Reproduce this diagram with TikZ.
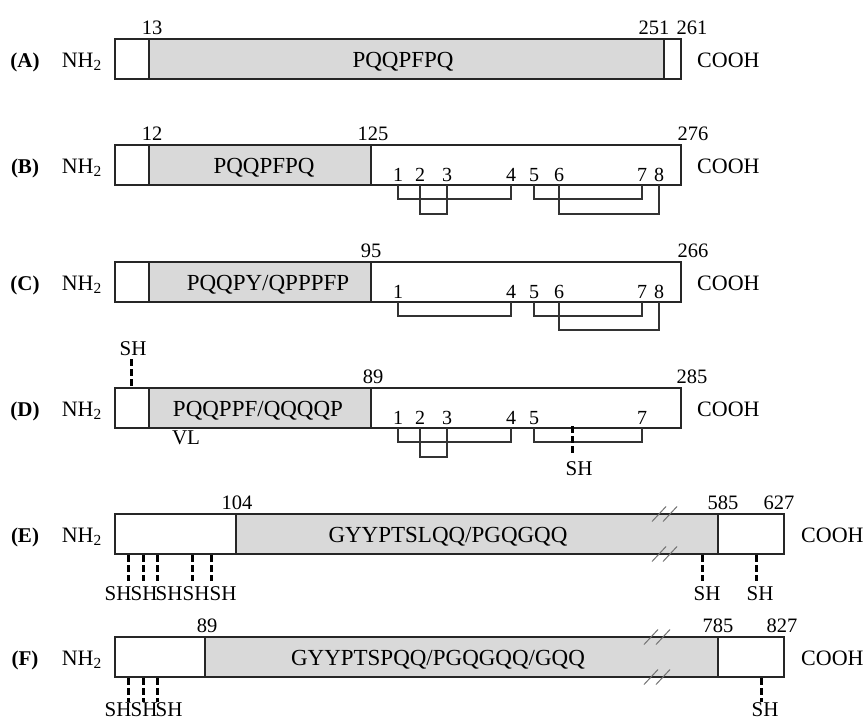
\documentclass[tikz,border=0pt]{standalone}
\usepackage{fontspec}
\setmainfont{Liberation Serif}
\begin{document}
\begin{tikzpicture}[x=1pt,y=-1pt,
  boxline/.style={draw=black!85, line width=1.6pt},
  segfill/.style={fill=black!15},
  rowlbl/.style={font=\fontsize{21}{23}\selectfont\bfseries, anchor=base, inner sep=0pt},
  endlbl/.style={font=\fontsize{22}{24}\selectfont, anchor=base, inner sep=0pt},
  seqlbl/.style={font=\fontsize{23}{25}\selectfont, anchor=base, inner sep=0pt},
  numlbl/.style={font=\fontsize{20.5}{22}\selectfont, anchor=base, inner sep=0pt},
  diglbl/.style={font=\fontsize{20}{22}\selectfont, anchor=base, inner sep=0pt},
  shlbl/.style={font=\fontsize{21}{23}\selectfont, anchor=base, inner sep=0pt},
  bracket/.style={draw=black!80, line width=1.1pt},
  shline/.style={draw=black, line width=3pt, dash pattern=on 7pt off 3pt},
  breakmark/.style={draw=black!55, line width=1pt}
]
\useasboundingbox (0,0) rectangle (866,720);

% ---------------- Row A ----------------
\fill[segfill] (149,39) rectangle (664,79);
\draw[boxline] (115,39) rectangle (681,79);
\draw[boxline] (149,39) -- (149,79);
\draw[boxline] (664,39) -- (664,79);
\node[rowlbl] (lA) at (25,67) {(A)};
\node[endlbl, anchor=base east] (nA) at (102,67) {NH\textsubscript{2}};
\node[endlbl, anchor=base west] (cA) at (697,67) {COOH};
\node[seqlbl] (sA) at (403,67) {PQQPFPQ};
\node[numlbl] (a13) at (152,34) {13};
\node[numlbl] (a251) at (654,34) {251};
\node[numlbl] (a261) at (692,34) {261};

% ---------------- Row B ----------------
\fill[segfill] (149,145) rectangle (371,185);
\draw[boxline] (115,145) rectangle (681,185);
\draw[boxline] (149,145) -- (149,185);
\draw[boxline] (371,145) -- (371,185);
\node[rowlbl] (lB) at (25,173) {(B)};
\node[endlbl, anchor=base east] (nB) at (102,173) {NH\textsubscript{2}};
\node[endlbl, anchor=base west] (cB) at (697,173) {COOH};
\node[seqlbl] (sB) at (264,173) {PQQPFPQ};
\node[numlbl] (b12) at (152,140) {12};
\node[numlbl] (b125) at (373,140) {125};
\node[numlbl] (b276) at (693,140) {276};
\foreach \d/\x in {1/398,2/420,3/447,4/511,5/534,6/559,7/642,8/659}
  \node[diglbl] (bd\d) at (\x,181) {\d};
\draw[bracket] (398,185) -- (398,199) -- (511,199) -- (511,185);
\draw[bracket] (420,185) -- (420,214) -- (447,214) -- (447,185);
\draw[bracket] (534,185) -- (534,199) -- (642,199) -- (642,185);
\draw[bracket] (559,185) -- (559,214) -- (659,214) -- (659,185);

% ---------------- Row C ----------------
\fill[segfill] (149,262) rectangle (371,302);
\draw[boxline] (115,262) rectangle (681,302);
\draw[boxline] (149,262) -- (149,302);
\draw[boxline] (371,262) -- (371,302);
\node[rowlbl] (lC) at (25,290) {(C)};
\node[endlbl, anchor=base east] (nC) at (102,290) {NH\textsubscript{2}};
\node[endlbl, anchor=base west] (cC) at (697,290) {COOH};
\node[seqlbl] (sC) at (268,290) {PQQPY/QPPPFP};
\node[numlbl] (c95) at (371,257) {95};
\node[numlbl] (c266) at (693,257) {266};
\foreach \d/\x in {1/398,4/511,5/534,6/559,7/642,8/659}
  \node[diglbl] (cd\d) at (\x,298) {\d};
\draw[bracket] (398,302) -- (398,316) -- (511,316) -- (511,302);
\draw[bracket] (534,302) -- (534,316) -- (642,316) -- (642,302);
\draw[bracket] (559,302) -- (559,330) -- (659,330) -- (659,302);

% ---------------- Row D ----------------
\fill[segfill] (149,388) rectangle (371,428);
\draw[boxline] (115,388) rectangle (681,428);
\draw[boxline] (149,388) -- (149,428);
\draw[boxline] (371,388) -- (371,428);
\node[rowlbl] (lD) at (25,416) {(D)};
\node[endlbl, anchor=base east] (nD) at (102,416) {NH\textsubscript{2}};
\node[endlbl, anchor=base west] (cD) at (697,416) {COOH};
\node[seqlbl] (sD) at (258,416) {PQQPPF/QQQQP};
\node[numlbl] (d89) at (373,383) {89};
\node[numlbl] (d285) at (692,383) {285};
\node[shlbl] (dsh1) at (133,355) {SH};
\draw[shline] (131,359) -- (131,388);
\node[shlbl] (dvl) at (186,444) {VL};
\foreach \d/\x in {1/398,2/420,3/447,4/511,5/534,7/642}
  \node[diglbl] (dd\d) at (\x,424) {\d};
\draw[bracket] (398,428) -- (398,442) -- (511,442) -- (511,428);
\draw[bracket] (420,428) -- (420,457) -- (447,457) -- (447,428);
\draw[bracket] (534,428) -- (534,442) -- (642,442) -- (642,428);
\draw[shline] (572,426) -- (572,454);
\node[shlbl] (dsh2) at (579,475) {SH};

% ---------------- Row E ----------------
\fill[segfill] (236,514) rectangle (718,554);
\draw[boxline] (115,514) rectangle (784,554);
\draw[boxline] (236,514) -- (236,554);
\draw[boxline] (718,514) -- (718,554);
\node[rowlbl] (lE) at (25,542) {(E)};
\node[endlbl, anchor=base east] (nE) at (102,542) {NH\textsubscript{2}};
\node[endlbl, anchor=base west] (cE) at (801,542) {COOH};
\node[seqlbl] (sE) at (448,542) {GYYPTSLQQ/PGQGQQ};
\node[numlbl] (e104) at (237,509) {104};
\node[numlbl] (e585) at (723,509) {585};
\node[numlbl] (e627) at (779,509) {627};
\foreach \x in {659,670} {
  \draw[breakmark] (\x-7,514+7.5) -- (\x+7,514-7.5);
  \draw[breakmark] (\x-7,554+7.5) -- (\x+7,554-7.5);
}
\foreach \x in {128,143,157,192,211,702,756}
  \draw[shline] (\x,555) -- (\x,581);
\foreach \i/\x in {1/118,2/144,3/169,4/196,5/223,6/707,7/760}
  \node[shlbl] (esh\i) at (\x,600) {SH};

% ---------------- Row F ----------------
\fill[segfill] (205,637) rectangle (718,677);
\draw[boxline] (115,637) rectangle (784,677);
\draw[boxline] (205,637) -- (205,677);
\draw[boxline] (718,637) -- (718,677);
\node[rowlbl] (lF) at (25,665) {(F)};
\node[endlbl, anchor=base east] (nF) at (102,665) {NH\textsubscript{2}};
\node[endlbl, anchor=base west] (cF) at (801,665) {COOH};
\node[seqlbl] (sF) at (438,665) {GYYPTSPQQ/PGQGQQ/GQQ};
\node[numlbl] (f89) at (207,632) {89};
\node[numlbl] (f785) at (718,632) {785};
\node[numlbl] (f827) at (782,632) {827};
\foreach \x in {651,663} {
  \draw[breakmark] (\x-7,637+7.5) -- (\x+7,637-7.5);
  \draw[breakmark] (\x-7,677+7.5) -- (\x+7,677-7.5);
}
\foreach \x in {128,143,157,761}
  \draw[shline] (\x,678) -- (\x,702);
\foreach \i/\x in {1/118,2/144,3/169,4/765}
  \node[shlbl] (fsh\i) at (\x,716) {SH};
\end{tikzpicture}
\end{document}
